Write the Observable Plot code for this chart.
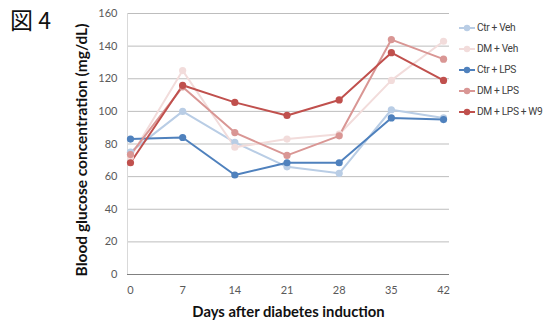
<!DOCTYPE html>
<html>
<head>
<meta charset="utf-8">
<script src="https://cdn.jsdelivr.net/npm/d3@7"></script>
<script src="https://cdn.jsdelivr.net/npm/@observablehq/plot@0.6"></script>
<style>
  html, body { margin: 0; padding: 0; background: #fff; }
  #wrap { position: relative; width: 548px; height: 325px; overflow: hidden; }
  #title { position: absolute; left: 10px; top: 2px; font-family: "Noto Sans CJK JP", sans-serif; font-size: 23px; color: #111; }
  #legend { position: absolute; left: 458px; top: 17px; font-family: Roboto, Lato, sans-serif; font-size: 10.2px; color: #404040; white-space: nowrap; letter-spacing: -0.35px; }
  #legend .item { display: flex; align-items: center; height: 21px; }
  #legend svg { margin-right: 1px; }
</style>
</head>
<body>
<div id="wrap">
  <div id="chart"></div>
  <div id="title">図 4</div>
  <div id="legend"></div>
</div>
<script>
const days = [0, 7, 14, 21, 28, 35, 42];
const seriesNames = ["Ctr + Veh", "DM + Veh", "Ctr + LPS", "DM + LPS", "DM + LPS + W9"];
const seriesColors = ["#b9cde5", "#f2dcdb", "#4f81bd", "#d99694", "#c0504d"];
const ctrVeh  = [75, 100, 81, 66, 62, 101, 96];
const dmVeh   = [72, 125, 78, 83, 86, 119, 143];
const ctrLps  = [83, 84, 61, 68.5, 68.5, 96, 95];
const dmLps   = [73.5, 115, 87, 73, 85, 144, 132];
const dmLpsW9 = [68.5, 116, 105.5, 97.5, 107, 136, 119];
const yTicks = [0, 20, 40, 60, 80, 100, 120, 140, 160];

const allSeries = [ctrVeh, dmVeh, ctrLps, dmLps, dmLpsW9];
const data = [];
allSeries.forEach((vals, i) => {
  vals.forEach((v, j) => data.push({ series: seriesNames[i], day: days[j], value: v }));
});

const colorScale = { domain: seriesNames, range: seriesColors };

const chart = Plot.plot({
  width: 548,
  height: 325,
  marginLeft: 127,
  marginRight: 99,
  marginTop: 13,
  marginBottom: 51,
  style: { fontFamily: "Lato, 'Open Sans', sans-serif", fontSize: "11px", color: "#595959", background: "#fff" },
  x: { domain: [-0.4, 42.8], ticks: days, tickSize: 0, tickPadding: 12, label: null },
  y: { domain: [0, 160], ticks: yTicks, tickSize: 0, tickPadding: 10, label: null },
  color: colorScale,
  marks: [
    Plot.ruleY(yTicks.filter(d => d > 0), { stroke: "#bdbdbd", strokeWidth: 1 }),
    Plot.ruleX([-0.4], { stroke: "#d9d9d9", strokeWidth: 1 }),
    Plot.ruleY([0], { stroke: "#808080", strokeWidth: 1 }),
    Plot.axisX({ ticks: days, tickSize: 0, tickPadding: 12, label: null, fill: "#595959" }),
    Plot.axisY({ ticks: yTicks, tickSize: 0, tickPadding: 10, label: null, fill: "#595959" }),
    Plot.line(data, { x: "day", y: "value", z: "series", stroke: "series", strokeWidth: 2 }),
    Plot.dot(data, { x: "day", y: "value", fill: "series", r: 3.6 }),
    Plot.text(["Days after diabetes induction"], { frameAnchor: "bottom", dy: 42, fontWeight: "bold", fontSize: 14.8, fill: "#111" }),
    Plot.text(["Blood glucose concentration (mg/dL)"], { frameAnchor: "left", textAnchor: "middle", dx: -45, dy: 6, rotate: -90, fontWeight: "bold", fontSize: 15.5, fill: "#111" })
  ]
});
document.getElementById("chart").appendChild(chart);

const legend = document.getElementById("legend");
seriesNames.forEach((name, i) => {
  const item = document.createElement("div");
  item.className = "item";
  const c = seriesColors[i];
  item.innerHTML = `<svg width="18" height="10"><line x1="1" y1="5" x2="17" y2="5" stroke="${c}" stroke-width="2"/><circle cx="9" cy="5" r="3.2" fill="${c}"/></svg><span>${name}</span>`;
  legend.appendChild(item);
});
</script>
</body>
</html>
